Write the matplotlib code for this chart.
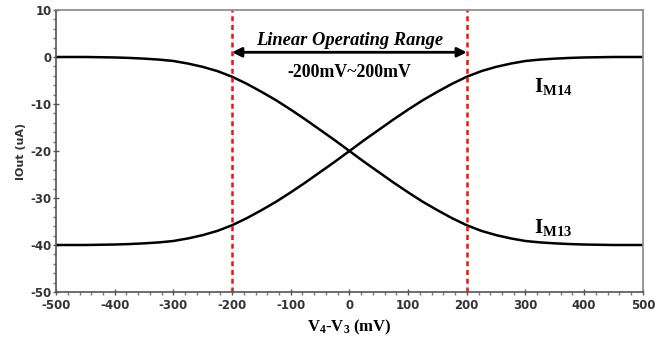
import numpy as np
import matplotlib
matplotlib.use("Agg")
import matplotlib.pyplot as plt
from matplotlib.ticker import MultipleLocator

# V4-V3 sweep (mV) and output currents (uA)
v_diff = [-500, -475, -450, -425, -400, -375, -350, -325, -300, -275, -250,
          -225, -200, -175, -150, -125, -100, -75, -50, -25, 0,
          25, 50, 75, 100, 125, 150, 175, 200, 225, 250, 275, 300,
          325, 350, 375, 400, 425, 450, 475, 500]
i_m13 = [0.0, 0.0, 0.0, -0.05, -0.1, -0.2, -0.35, -0.55, -0.85, -1.4, -2.1,
         -3.0, -4.2, -5.7, -7.4, -9.2, -11.2, -13.3, -15.5, -17.7, -20.0,
         -22.3, -24.5, -26.7, -28.8, -30.8, -32.6, -34.3, -35.8, -37.0,
         -37.9, -38.6, -39.15, -39.45, -39.65, -39.8, -39.9, -39.95, -40.0,
         -40.0, -40.0]
i_m14 = [-40.0, -40.0, -40.0, -39.95, -39.9, -39.8, -39.65, -39.45, -39.15,
         -38.6, -37.9, -37.0, -35.8, -34.3, -32.6, -30.8, -28.8, -26.7,
         -24.5, -22.3, -20.0, -17.7, -15.5, -13.3, -11.2, -9.2, -7.4, -5.7,
         -4.2, -3.0, -2.1, -1.4, -0.85, -0.55, -0.35, -0.2, -0.1, -0.05,
         0.0, 0.0, 0.0]

range_bounds = [-200, 200]

plt.rcParams["axes.unicode_minus"] = False
plt.rcParams["mathtext.fontset"] = "custom"
plt.rcParams["mathtext.rm"] = "Liberation Serif:bold"
plt.rcParams["mathtext.bf"] = "Liberation Serif:bold"

fig = plt.figure(figsize=(6.71, 3.41), dpi=100)
ax = fig.add_axes([0.0835, 0.1437, 0.8745, 0.827])

ax.plot(v_diff, i_m13, color="black", lw=1.8)
ax.plot(v_diff, i_m14, color="black", lw=1.8)

for xb in range_bounds:
    ax.axvline(xb, color="#ee1111", lw=1.8, ls=(0, (2, 1.5)))

ax.set_xlim(-500, 500)
ax.set_ylim(-50, 10)
ax.xaxis.set_major_locator(MultipleLocator(100))
ax.xaxis.set_minor_locator(MultipleLocator(20))
ax.yaxis.set_major_locator(MultipleLocator(10))
ax.yaxis.set_minor_locator(MultipleLocator(2))

for side in ["top", "right"]:
    ax.spines[side].set_color("#888888")
    ax.spines[side].set_linewidth(1.2)
for side in ["bottom", "left"]:
    ax.spines[side].set_color("#555555")
    ax.spines[side].set_linewidth(1.2)

ax.tick_params(which="major", direction="inout", length=4, width=1,
               color="#555555", labelsize=8.5, labelcolor="#333333")
ax.tick_params(which="minor", direction="out", length=2, width=1,
               color="#777777")
ax.tick_params(axis="x", which="major", pad=3)
ax.tick_params(axis="y", which="major", pad=1)
for lab in ax.get_xticklabels() + ax.get_yticklabels():
    lab.set_fontweight("bold")

ax.set_ylabel("IOut (uA)", fontsize=8, fontweight="bold",
              color="#333333", labelpad=3)
ax.set_xlabel(r"$\mathrm{V_4}$-$\mathrm{V_3}$ (mV)", fontsize=12,
              fontweight="bold", family="Liberation Serif", labelpad=4)

# linear range annotation
ax.annotate("", xy=(range_bounds[0], 1.0), xytext=(range_bounds[1], 1.0),
            arrowprops=dict(arrowstyle="<|-|>", color="black", lw=2,
                            mutation_scale=14, shrinkA=0, shrinkB=0))
ax.text(0, 3.6, "Linear Operating Range", ha="center", va="center",
        fontsize=13.3, fontweight="bold", fontstyle="italic",
        family="Liberation Serif")
ax.text(0, -3.4, "-200mV~200mV", ha="center", va="center",
        fontsize=12.8, fontweight="bold", family="Liberation Serif")

ax.text(315, -6.2, r"$\mathrm{I_{M14}}$", ha="left", va="center",
        fontsize=15)
ax.text(315, -36.2, r"$\mathrm{I_{M13}}$", ha="left", va="center",
        fontsize=15)

fig.savefig("out.png", dpi=100)
